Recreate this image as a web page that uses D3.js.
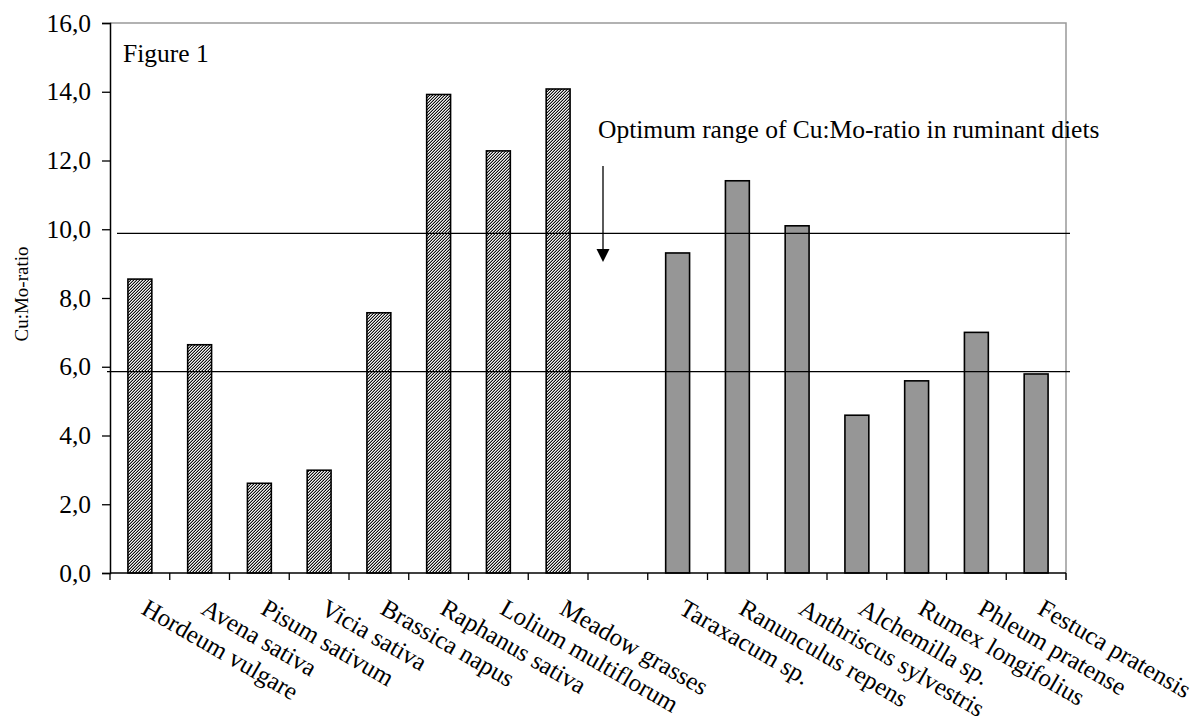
<!DOCTYPE html>
<html>
<head>
<meta charset="utf-8">
<script src="https://cdn.jsdelivr.net/npm/d3@7/dist/d3.min.js"></script>
<style>
  html, body { margin: 0; padding: 0; background: #fff; }
  svg { display: block; }
  text { font-family: "Liberation Serif", "Times New Roman", serif; fill: #000; }
</style>
</head>
<body>
<svg id="chart" width="1199" height="724"></svg>
<script>
// ---- data ----
const cropNames = ["Hordeum vulgare", "Avena sativa", "Pisum sativum", "Vicia sativa",
  "Brassica napus", "Raphanus sativa", "Lolium multiflorum", "Meadow grasses"];
const cropValues = [8.55, 6.64, 2.61, 2.99, 7.57, 13.92, 12.28, 14.08];
const weedNames = ["Taraxacum sp.", "Ranunculus repens", "Anthriscus sylvestris",
  "Alchemilla sp.", "Rumex longifolius", "Phleum pratense", "Festuca pratensis"];
const weedValues = [9.31, 11.41, 10.10, 4.59, 5.59, 7.00, 5.79];
const yTicks = [0, 2, 4, 6, 8, 10, 12, 14, 16];
const optimumRange = [5.86, 9.88];
const figureLabel = "Figure 1";
const annotation = "Optimum range of Cu:Mo-ratio in ruminant diets";
const yTitle = "Cu:Mo-ratio";

// ---- layout ----
const svg = d3.select("#chart");
const L = 110, R = 1066, T = 23, B = 573;
const FS = "25.5px";

const slots = [...cropNames.map((n, i) => ({name: n, value: cropValues[i], group: 0})),
  {name: "", value: null, group: -1},
  ...weedNames.map((n, i) => ({name: n, value: weedValues[i], group: 1}))];

const x = d3.scaleBand().domain(slots.map((d, i) => i)).range([L, R])
  .paddingInner(0.6).paddingOuter(0.3);
const y = d3.scaleLinear().domain([0, 16]).range([B, T]);
const slotEdge = d3.scaleLinear().domain([0, slots.length]).range([L, R]);

// pattern (fine dark diagonal hatch)
const defs = svg.append("defs");
const pat = defs.append("pattern").attr("id", "hatch").attr("patternUnits", "userSpaceOnUse")
  .attr("width", 3).attr("height", 3);
pat.append("rect").attr("width", 3).attr("height", 3).attr("fill", "#f2f2f2");
[[0, 2], [1, 1], [2, 0]].forEach(([px, py]) =>
  pat.append("rect").attr("x", px).attr("y", py).attr("width", 1).attr("height", 1).attr("fill", "#111"));
[[0, 1], [1, 0], [2, 2]].forEach(([px, py]) =>
  pat.append("rect").attr("x", px).attr("y", py).attr("width", 1).attr("height", 1).attr("fill", "#9a9a9a"));

// plot frame (top/right gray)
svg.append("path")
  .attr("d", `M${L},${T} H${R} V${B + 7}`)
  .attr("fill", "none").attr("stroke", "#999").attr("stroke-width", 1.5);

// bars
svg.append("g").selectAll("rect")
  .data(slots.map((d, i) => ({...d, i})).filter(d => d.value != null))
  .join("rect")
  .attr("x", d => x(d.i))
  .attr("width", x.bandwidth())
  .attr("y", d => y(d.value))
  .attr("height", d => y(0) - y(d.value))
  .attr("fill", d => d.group === 0 ? "url(#hatch)" : "#969696")
  .attr("stroke", "#000").attr("stroke-width", 1.6);

// optimum range lines
svg.append("g").selectAll("line").data(optimumRange).join("line")
  .attr("x1", (d, i) => i === 0 ? L - 3 : L + 7)
  .attr("x2", R + 4)
  .attr("y1", d => y(d)).attr("y2", d => y(d))
  .attr("stroke", "#000").attr("stroke-width", 1.3);

// y axis
const fmt = v => d3.format(".1f")(v).replace(".", ",");
const yAxis = svg.append("g").attr("transform", `translate(${L},0)`)
  .call(d3.axisLeft(y).tickValues(yTicks).tickFormat(fmt).tickSize(8).tickPadding(11));
yAxis.select(".domain").attr("stroke", "#000").attr("stroke-width", 1.5);
yAxis.selectAll(".tick line").attr("stroke", "#000").attr("stroke-width", 1.3);
yAxis.selectAll("text").style("font-family", '"Liberation Serif", serif').style("font-size", FS);

// x axis line and ticks
svg.append("line").attr("x1", L).attr("x2", R).attr("y1", B).attr("y2", B)
  .attr("stroke", "#000").attr("stroke-width", 1.5);
svg.append("g").selectAll("line").data(d3.range(slots.length + 1)).join("line")
  .attr("x1", d => slotEdge(d)).attr("x2", d => slotEdge(d))
  .attr("y1", B).attr("y2", B + 7)
  .attr("stroke", "#000").attr("stroke-width", 1.3);

// x labels
svg.append("g").selectAll("text")
  .data(slots.map((d, i) => ({...d, i})).filter(d => d.name))
  .join("text")
  .attr("transform", d => `translate(${x(d.i) + x.bandwidth() / 2},${B + 40}) rotate(30)`)
  .attr("text-anchor", "start")
  .style("font-size", "25px")
  .text(d => d.name);

// y title
svg.append("text")
  .attr("transform", `translate(28,294) rotate(-90)`)
  .attr("text-anchor", "middle")
  .style("font-size", "19px")
  .text(yTitle);

// figure label
svg.append("text").attr("x", 123).attr("y", 62).style("font-size", FS).text(figureLabel);

// annotation + arrow
svg.append("text").attr("x", 598).attr("y", 138).style("font-size", FS).text(annotation);
svg.append("line").attr("x1", 603).attr("x2", 603).attr("y1", 166).attr("y2", 250)
  .attr("stroke", "#000").attr("stroke-width", 1.3);
svg.append("path").attr("d", "M596.5,249 L609.5,249 L603,262 Z").attr("fill", "#000");
</script>
</body>
</html>
